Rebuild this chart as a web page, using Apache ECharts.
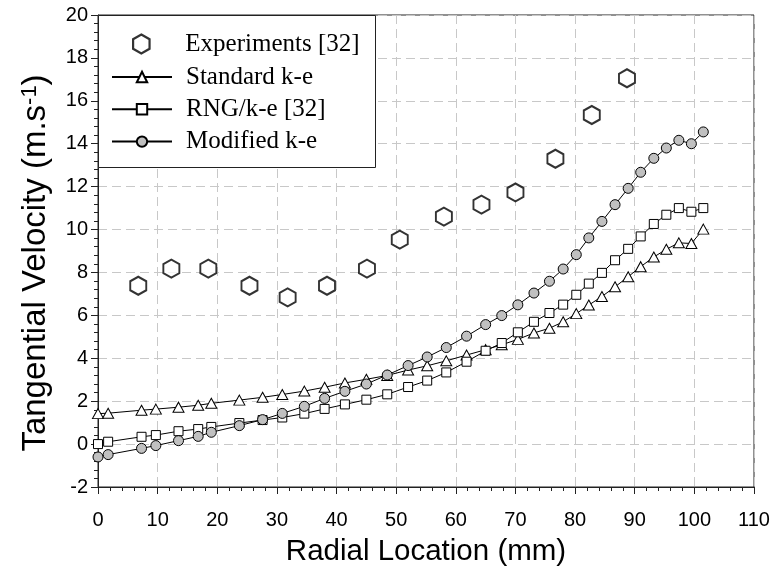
<!DOCTYPE html>
<html>
<head>
<meta charset="utf-8">
<script src="https://cdn.jsdelivr.net/npm/echarts@6/dist/echarts.min.js"></script>
<style>
html,body{margin:0;padding:0;background:#fff;}
#chart{width:774px;height:576px;}
</style>
</head>
<body>
<div id="chart"></div>
<script>
// Radial locations (mm) shared by the three simulation series
var simX = [0, 1.7, 7.3, 9.7, 13.5, 16.8, 19.0, 23.7, 27.6, 30.9, 34.6, 38.0, 41.4, 45.0, 48.5, 52.0, 55.2, 58.4, 61.8, 65.0, 67.7, 70.4, 73.1, 75.7, 78.0, 80.2, 82.3, 84.5, 86.7, 88.9, 91.0, 93.2, 95.3, 97.4, 99.5, 101.5];
var standardKE = [1.42, 1.44, 1.58, 1.63, 1.72, 1.81, 1.9, 2.05, 2.18, 2.31, 2.47, 2.65, 2.85, 3.02, 3.2, 3.45, 3.65, 3.88, 4.15, 4.4, 4.63, 4.88, 5.18, 5.4, 5.7, 6.08, 6.48, 6.88, 7.33, 7.8, 8.27, 8.72, 9.08, 9.38, 9.35, 10.02];
var rngKE = [0.0, 0.11, 0.34, 0.42, 0.6, 0.7, 0.8, 0.98, 1.12, 1.24, 1.42, 1.64, 1.85, 2.07, 2.32, 2.66, 2.96, 3.34, 3.84, 4.35, 4.71, 5.21, 5.7, 6.11, 6.5, 6.96, 7.48, 7.98, 8.57, 9.1, 9.68, 10.26, 10.69, 11.0, 10.83, 11.0];
var modifiedKE = [-0.6, -0.49, -0.2, -0.07, 0.16, 0.36, 0.55, 0.86, 1.14, 1.43, 1.76, 2.13, 2.46, 2.8, 3.22, 3.66, 4.06, 4.5, 5.03, 5.57, 5.99, 6.49, 7.04, 7.59, 8.16, 8.83, 9.61, 10.38, 11.16, 11.92, 12.67, 13.32, 13.8, 14.16, 14.0, 14.55];
// Experiments [32]
var expX = [6.75, 12.3, 18.5, 25.4, 31.8, 38.4, 45.1, 50.6, 58.0, 64.3, 70.0, 76.7, 82.8, 88.7];
var expY = [7.38, 8.18, 8.18, 7.38, 6.84, 7.38, 8.18, 9.53, 10.6, 11.16, 11.73, 13.3, 15.34, 17.05];
var seriesNames = ['Experiments [32]', 'Standard k-e', 'RNG/k-e [32]', 'Modified k-e'];
var xTicks = {min: 0, max: 110, step: 10};
var yTicks = {min: -2, max: 20, step: 2};

function pairs(xs, ys) { return xs.map(function (x, i) { return [x, ys[i]]; }); }

var hexagon = 'path://M0,-10 L8.66,-5 L8.66,5 L0,10 L-8.66,5 L-8.66,-5 Z';
var sans = 'Liberation Sans, Arial, sans-serif';
var serif = 'Liberation Serif, Times New Roman, serif';
var legendText = {fontFamily: serif, fontSize: 25, color: '#000', padding: [0, 0, 0, 9]};

function axisCommon() {
  return {
    type: 'value',
    axisLine: {show: true, onZero: false, lineStyle: {color: '#222', width: 1}},
    axisTick: {show: true, inside: false, length: 7, lineStyle: {color: '#222'}},
    minorTick: {show: true, splitNumber: 5, length: 4, lineStyle: {color: '#222'}},
    splitLine: {show: true, lineStyle: {color: '#c8c8c8', width: 1, type: [9, 5]}},
    minorSplitLine: {show: false},
    axisLabel: {color: '#000', fontFamily: sans, fontSize: 20},
    nameLocation: 'middle',
    nameTextStyle: {color: '#000', fontFamily: sans, fontSize: 29.5}
  };
}

var xAxis = axisCommon();
xAxis.min = xTicks.min; xAxis.max = xTicks.max; xAxis.interval = xTicks.step;
xAxis.name = 'Radial Location (mm)';
xAxis.nameGap = 50;
xAxis.axisLabel.margin = 23;

var yAxis = axisCommon();
yAxis.min = yTicks.min; yAxis.max = yTicks.max; yAxis.interval = yTicks.step;
yAxis.name = 'Tangential Velocity (m.s{sup|-1})';
yAxis.nameGap = 46;
yAxis.axisLabel.margin = 10;
yAxis.nameTextStyle.fontSize = 33;
yAxis.nameTextStyle.padding = [0, 24, 0, 0];
yAxis.nameTextStyle.rich = {sup: {fontFamily: sans, fontSize: 22, verticalAlign: 'top'}};

var lineCommon = {
  type: 'line',
  lineStyle: {color: '#000', width: 1},
  showAllSymbol: true,
  z: 3
};

var option = {
  animation: false,
  backgroundColor: '#fff',
  grid: {left: 98, right: 20, top: 15, bottom: 89, show: true, borderColor: '#222', borderWidth: 1},
  xAxis: xAxis,
  yAxis: yAxis,
  legend: [
    {data: [{name: seriesNames[0], itemStyle: {color: '#fff', borderColor: '#000', borderWidth: 2.2}}],
     left: 132, top: 31.5, padding: 0, itemWidth: 60, itemHeight: 19, textStyle: legendText, z: 5, selectedMode: false,
     itemStyle: {color: '#fff', borderColor: '#000', borderWidth: 2.2}},
    {data: seriesNames.slice(1), orient: 'vertical', left: 111, top: 64.5, padding: 0, itemGap: 7.3, itemWidth: 60, itemHeight: 13, textStyle: legendText, z: 5, selectedMode: false}
  ],
  graphic: [{
    type: 'rect', left: 98, top: 15, z: 4,
    shape: {width: 277, height: 152},
    style: {fill: '#fff', stroke: '#222', lineWidth: 1}
  }],
  series: [
    {
      name: seriesNames[0], type: 'scatter', data: pairs(expX, expY),
      symbol: hexagon, symbolSize: [16, 18],
      itemStyle: {color: '#fff', borderColor: '#000', borderWidth: 2}, z: 3
    },
    Object.assign({}, lineCommon, {
      name: seriesNames[1], data: pairs(simX, standardKE),
      symbol: 'triangle', symbolSize: [11, 10],
      itemStyle: {color: '#fff', borderColor: '#000', borderWidth: 1}
    }),
    Object.assign({}, lineCommon, {
      name: seriesNames[2], data: pairs(simX, rngKE),
      symbol: 'rect', symbolSize: 9,
      itemStyle: {color: '#fff', borderColor: '#000', borderWidth: 1}
    }),
    Object.assign({}, lineCommon, {
      name: seriesNames[3], data: pairs(simX, modifiedKE),
      symbol: 'circle', symbolSize: 10,
      itemStyle: {color: '#c0c0c0', borderColor: '#000', borderWidth: 1}
    })
  ]
};

var chart = echarts.init(document.getElementById('chart'), null, {renderer: 'canvas'});
chart.setOption(option);
</script>
</body>
</html>
